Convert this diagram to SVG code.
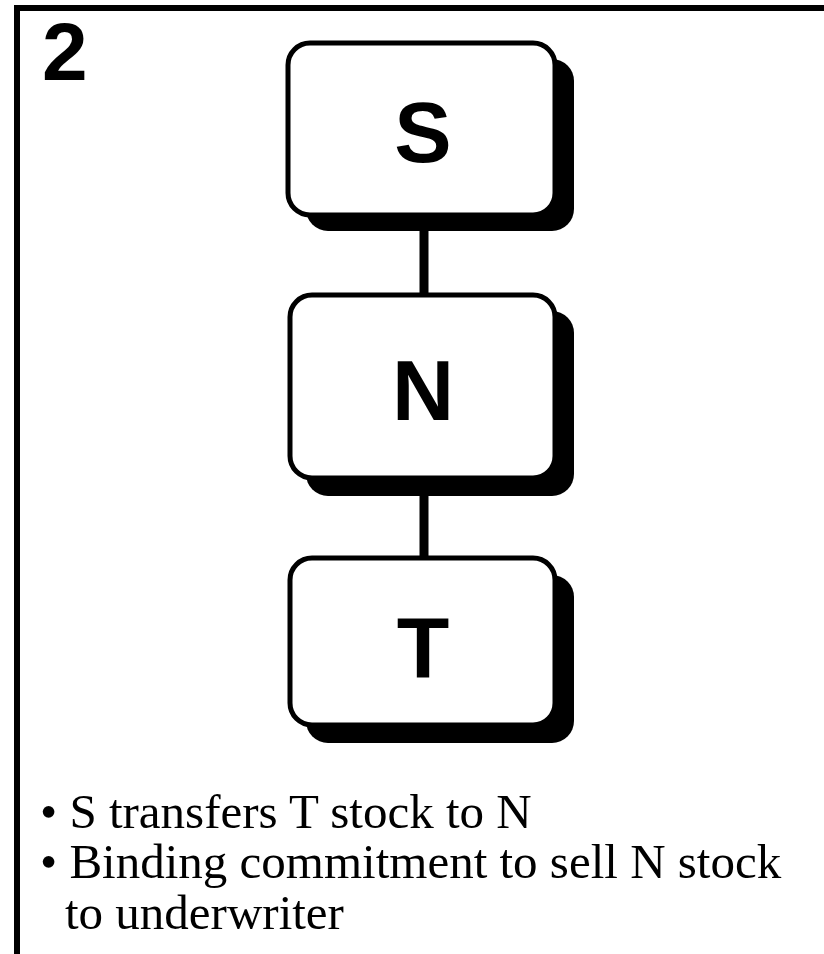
<svg xmlns="http://www.w3.org/2000/svg" width="824" height="954" viewBox="0 0 824 954">
<style>
.frame{fill:none;stroke:#000;stroke-width:6}
.box{fill:#fff;stroke:#000;stroke-width:5}
.shadow{fill:#000}
.lbl{font-family:"Liberation Sans",Arial,sans-serif;font-weight:bold;font-size:86px;fill:#000;text-anchor:middle}
.num{font-family:"Liberation Sans",Arial,sans-serif;font-weight:bold;font-size:82px;fill:#000}
.bul{font-family:"Liberation Serif","Times New Roman",serif;font-size:49px;fill:#000}
.conn{stroke:#000;stroke-width:9;fill:none}
</style>
<rect width="824" height="954" fill="#fff"/>
<path class="frame" d="M17,954 V8 H824"/>
<text class="num" x="42" y="80">2</text>
<g id="connectors">
<line class="conn" x1="424" y1="215" x2="424" y2="295"/>
<line class="conn" x1="424" y1="478" x2="424" y2="558"/>
</g>
<g id="node-S">
<rect class="shadow" x="306" y="59" width="268" height="172" rx="22"/>
<rect class="box" x="288" y="43" width="267" height="172" rx="22"/>
<text class="lbl" x="423" y="162">S</text>
</g>
<g id="node-N">
<rect class="shadow" x="306" y="311" width="268" height="185" rx="22"/>
<rect class="box" x="290" y="295" width="265" height="183" rx="22"/>
<text class="lbl" x="423" y="420">N</text>
</g>
<g id="node-T">
<rect class="shadow" x="306" y="575" width="268" height="168" rx="22"/>
<rect class="box" x="290" y="558" width="265" height="167" rx="22"/>
<text class="lbl" x="423" y="677">T</text>
</g>
<g id="bullets">
<text class="bul" x="40" y="828">• S transfers T stock to N</text>
<text class="bul" x="40" y="878">• Binding commitment to sell N stock</text>
<text class="bul" x="65" y="929">to underwriter</text>
</g>
</svg>
